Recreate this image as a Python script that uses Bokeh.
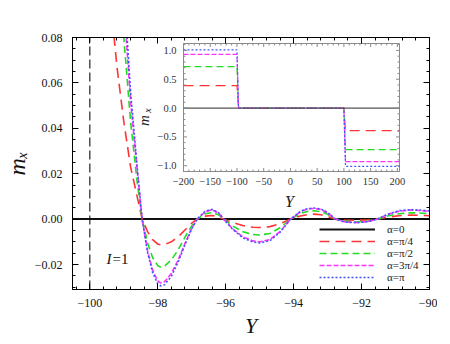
import numpy as np
from bokeh.plotting import figure
from bokeh.models import (Range1d, LinearAxis, Legend, LegendItem, Label,
                          CustomJSTickFormatter, SingleIntervalTicker)
from bokeh.embed import file_html
from bokeh.resources import INLINE
from bokeh.core.properties import value

# ---------------- data ----------------
Y = [-100.6, -100.0, -99.8, -99.6, -99.4, -99.2, -99.0, -98.8, -98.6, -98.46,
     -98.3, -98.15, -98.0, -97.92, -97.8, -97.6, -97.4, -97.2, -97.0, -96.84,
     -96.6, -96.4, -96.2, -96.06, -95.8, -95.5, -95.2, -95.0, -94.7, -94.4,
     -94.09, -93.8, -93.6, -93.4, -93.2, -93.0, -92.77, -92.5, -92.13, -91.8,
     -91.54, -91.2, -90.9, -90.56, -90.3, -90.0]

mx_a0 = [0.0] * 46
mx_pi4 = [0.39, 0.30, 0.22, 0.155, 0.097, 0.067, 0.043, 0.023, 0.0095, 0.0,
          -0.0055, -0.009, -0.011, -0.0113, -0.0112, -0.0100, -0.0078, -0.0048, -0.0018, 0.0,
          0.0013, 0.0016, 0.0009, 0.0, -0.0015, -0.0028, -0.0036, -0.0037, -0.0033, -0.0020,
          0.0, 0.0014, 0.0020, 0.0022, 0.0019, 0.0012, 0.0, -0.0004, -0.0005, -0.0003,
          0.0, 0.0009, 0.0015, 0.0018, 0.0017, 0.0015]
mx_pi2 = [0.72, 0.60, 0.42, 0.29, 0.19, 0.12, 0.08, 0.043, 0.0155, 0.0,
          -0.0105, -0.017, -0.0205, -0.0211, -0.0207, -0.0180, -0.0135, -0.0080, -0.0030, 0.0,
          0.0024, 0.0029, 0.0018, 0.0, -0.0030, -0.0055, -0.0068, -0.0070, -0.0063, -0.0038,
          0.0, 0.0025, 0.0034, 0.0037, 0.0033, 0.0021, 0.0, -0.0009, -0.0012, -0.0008,
          0.0, 0.0015, 0.0024, 0.0028, 0.0027, 0.0024]
mx_3pi4 = [0.93, 0.80, 0.55, 0.37, 0.24, 0.15, 0.095, 0.052, 0.0207, 0.0,
           -0.0140, -0.0225, -0.0272, -0.0281, -0.0276, -0.0240, -0.0180, -0.0108, -0.0040, 0.0,
           0.0033, 0.0041, 0.0026, 0.0, -0.0042, -0.0078, -0.0096, -0.0100, -0.0090, -0.0055,
           0.0, 0.0033, 0.0044, 0.0047, 0.0043, 0.0028, 0.0, -0.0012, -0.0015, -0.0010,
           0.0, 0.0022, 0.0035, 0.0040, 0.0038, 0.0034]
mx_pi = [1.01, 0.85, 0.60, 0.40, 0.26, 0.165, 0.103, 0.056, 0.0222, 0.0,
         -0.0147, -0.0236, -0.0285, -0.0294, -0.0289, -0.0252, -0.0189, -0.0113, -0.0042, 0.0,
         0.0035, 0.0043, 0.0027, 0.0, -0.0044, -0.0082, -0.0101, -0.0105, -0.0095, -0.0058,
         0.0, 0.0035, 0.0046, 0.0049, 0.0045, 0.0029, 0.0, -0.0013, -0.0016, -0.0011,
         0.0, 0.0023, 0.0037, 0.0042, 0.0040, 0.0036]

labels = ["α=0", "α=π/4", "α=π/2", "α=3π/4", "α=π"]

# inset data
inset_Y = [-200, -100, -97, 100, 103, 204]
in_a0 = [0.0, 0.0, 0.0, 0.0, 0.0, 0.0]
in_pi4 = [0.39, 0.39, 0.0, 0.0, -0.39, -0.39]
in_pi2 = [0.72, 0.72, 0.0, 0.0, -0.72, -0.72]
in_3pi4 = [0.93, 0.93, 0.0, 0.0, -0.93, -0.93]
in_pi = [1.01, 1.01, 0.0, 0.0, -1.01, -1.01]

inset_xticks = [-200, -150, -100, -50, 0, 50, 100, 150, 200]
inset_xlabels = ["−200", "−150", "−100", "−50", "0", "50", "100", "150", "200"]
inset_yticks = [-1.0, -0.5, 0.0, 0.5, 1.0]
inset_ylabels = ["−1.0", "−0.5", "0.0", "0.5", "1.0"]

dashed_wall = -100.0

# ---------------- layout geometry (page pixels) ----------------
FL, FR, FT, FB = 72, 429, 37, 289       # main frame
X0, X1 = -100.51, -90.0
Y0, Y1 = -0.031, 0.08
IL, IR, IT, IB = 183, 399, 43, 171       # inset frame
IX0, IX1 = -200.0, 204.0
IY0, IY1 = -1.10, 1.12

def mx(px):
    return X0 + (px - FL) / (FR - FL) * (X1 - X0)

def my(py):
    return Y1 - (py - FT) / (FB - FT) * (Y1 - Y0)

sx = (IX1 - IX0) / (IR - IL)   # inset units per px
sy = (IY1 - IY0) / (IB - IT)

SERIF = "Liberation Serif"
colors = ["#111111", "#ff3333", "#22dd22", "#ff33ff", "#4455ff"]
dashes = ["solid", "10 6", "7 4", "5 2", "2 2"]
widths = [2.0, 1.6, 1.6, 1.6, 1.6]

p = figure(frame_width=FR - FL, frame_height=FB - FT,
           x_range=Range1d(X0, X1), y_range=Range1d(Y0, Y1),
           output_backend="svg", toolbar_location=None,
           min_border_left=FL, min_border_right=8,
           min_border_top=FT, min_border_bottom=52,
           background_fill_color="white", border_fill_color="white")
p.grid.visible = False
p.outline_line_color = "black"

p.extra_x_ranges = {"ix": Range1d(IX0 - (IL - FL) * sx, IX1 + (FR - IR) * sx)}
p.extra_y_ranges = {"iy": Range1d(IY0 - (FB - IB) * sy, IY1 + (IT - FT) * sy)}

xt = SingleIntervalTicker(interval=2, num_minor_ticks=5)
yt = SingleIntervalTicker(interval=0.02, num_minor_ticks=4)
xfmt = CustomJSTickFormatter(code="return (tick < 0 ? '\u2212' : '') + Math.abs(tick).toFixed(0);")
yfmt = CustomJSTickFormatter(code="return (tick < -1e-9 ? '\u2212' : '') + Math.abs(tick).toFixed(2);")
blank = CustomJSTickFormatter(code="return '';")

def style_axis(ax):
    ax.major_tick_in = 6
    ax.major_tick_out = 0
    ax.minor_tick_in = 3
    ax.minor_tick_out = 0
    ax.axis_line_color = "black"
    ax.major_tick_line_color = "black"
    ax.minor_tick_line_color = "black"
    ax.major_label_text_font = SERIF
    ax.major_label_text_font_size = "12px"
    ax.major_label_text_color = "#111111"
    ax.axis_label_text_font = SERIF
    ax.axis_label_text_font_style = "italic"
    ax.axis_label_text_color = "#111111"

p.xaxis.ticker = xt
p.xaxis.formatter = xfmt
p.yaxis.ticker = yt
p.yaxis.formatter = yfmt
style_axis(p.xaxis[0])
style_axis(p.yaxis[0])
p.xaxis.major_label_standoff = 9
p.yaxis.major_label_standoff = 10
p.xaxis.axis_label = "Y"
p.xaxis.axis_label_text_font_size = "22px"
p.xaxis.axis_label_standoff = 3
p.yaxis.axis_label = "mₓ"
p.yaxis.axis_label_text_font_size = "24px"
p.yaxis.axis_label_standoff = 2

top_ax = LinearAxis(ticker=SingleIntervalTicker(interval=2, num_minor_ticks=5), formatter=blank)
right_ax = LinearAxis(ticker=SingleIntervalTicker(interval=0.02, num_minor_ticks=4), formatter=blank)
style_axis(top_ax)
style_axis(right_ax)
p.add_layout(top_ax, "above")
p.add_layout(right_ax, "right")

# ---------------- main curves ----------------
p.line([dashed_wall, dashed_wall], [Y0, Y1], line_color="#222222", line_dash="9 4", line_width=1.2)
series = [mx_a0, mx_pi4, mx_pi2, mx_3pi4, mx_pi]
rends = []
for vals, c, d, w in zip(series, colors, dashes, widths):
    r = p.line(Y, vals, line_color=c, line_dash=d, line_width=w)
    rends.append(r)

legend = Legend(items=[LegendItem(label=l, renderers=[r]) for l, r in zip(labels, rends)],
                location=(247, 6), glyph_width=56, glyph_height=12, label_height=12,
                spacing=0, padding=0, margin=0, label_standoff=12,
                border_line_alpha=0, background_fill_alpha=0,
                label_text_font=SERIF, label_text_font_size="11px",
                label_text_color="#222222")
p.add_layout(legend)

# I=1 annotation (inside the frame)
p.text(x=[mx(106)], y=[my(258)], text=["I"], text_font=value(SERIF), text_font_style="italic",
       text_font_size="15px", text_align="left", text_baseline="middle", text_color="#111111")
p.text(x=[mx(112)], y=[my(258)], text=["=1"], text_font=value(SERIF),
       text_font_size="15px", text_align="left", text_baseline="middle", text_color="#111111")

# ---------------- inset ----------------
R = dict(x_range_name="ix", y_range_name="iy")
p.quad(left=[IX0], right=[IX1], bottom=[IY0], top=[IY1], fill_color="white",
       line_color="#8a8a8a", line_width=1, **R)

inset_series = [in_a0, in_pi4, in_pi2, in_3pi4, in_pi]
in_dash = ["solid", "10 6", "7 4", "5 2", "2 2"]
for vals, c, d in zip(inset_series[1:], colors[1:], in_dash[1:]):
    p.line(inset_Y, vals, line_color=c, line_dash=d, line_width=1.2, **R)
p.line(inset_Y, in_a0, line_color="#555555", line_width=1.4, **R)

# inset ticks
maj_len, min_len = 3.5, 2.0
xminor = [v for v in np.arange(IX0, IX1, 10.0) if v not in inset_xticks]
yminor = [round(v, 2) for v in np.arange(-1.1, 1.11, 0.1) if round(v, 2) not in inset_yticks]
tc = "#8a8a8a"
for ticks, L in ((inset_xticks, maj_len), (xminor, min_len)):
    n = len(ticks)
    p.segment(x0=ticks, x1=ticks, y0=[IY0] * n, y1=[IY0 + L * sy] * n, line_color=tc, **R)
    p.segment(x0=ticks, x1=ticks, y0=[IY1] * n, y1=[IY1 - L * sy] * n, line_color=tc, **R)
for ticks, L in ((inset_yticks, maj_len), (yminor, min_len)):
    n = len(ticks)
    p.segment(x0=[IX0] * n, x1=[IX0 + L * sx] * n, y0=ticks, y1=ticks, line_color=tc, **R)
    p.segment(x0=[IX1] * n, x1=[IX1 - L * sx] * n, y0=ticks, y1=ticks, line_color=tc, **R)

p.text(x=inset_xticks, y=[IY0 - 10 * sy] * len(inset_xticks), text=inset_xlabels,
       text_align="center", text_baseline="middle", text_font=value(SERIF),
       text_font_size="10.5px", text_color="#333333", **R)
p.text(x=[IX0 - 7 * sx] * len(inset_yticks), y=inset_yticks, text=inset_ylabels,
       text_align="right", text_baseline="middle", text_font=value(SERIF),
       text_font_size="10.5px", text_color="#333333", **R)
p.text(x=[IX0 + (289 - IL) * sx], y=[IY1 - (201 - IT) * sy], text=["Y"],
       text_align="center", text_baseline="middle", text_font=value(SERIF),
       text_font_style="italic", text_font_size="16px", text_color="#222222", **R)
p.text(x=[IX0 - (IL - 143) * sx], y=[IY1 - (120 - IT) * sy], text=["m"], angle=np.pi / 2,
       text_align="center", text_baseline="middle", text_font=value(SERIF),
       text_font_style="italic", text_font_size="15px", text_color="#222222", **R)
p.text(x=[IX0 - (IL - 147) * sx], y=[IY1 - (110 - IT) * sy], text=["x"], angle=np.pi / 2,
       text_align="center", text_baseline="middle", text_font=value(SERIF),
       text_font_style="italic", text_font_size="10px", text_color="#222222", **R)

open("out.html", "w").write(file_html(p, INLINE))
